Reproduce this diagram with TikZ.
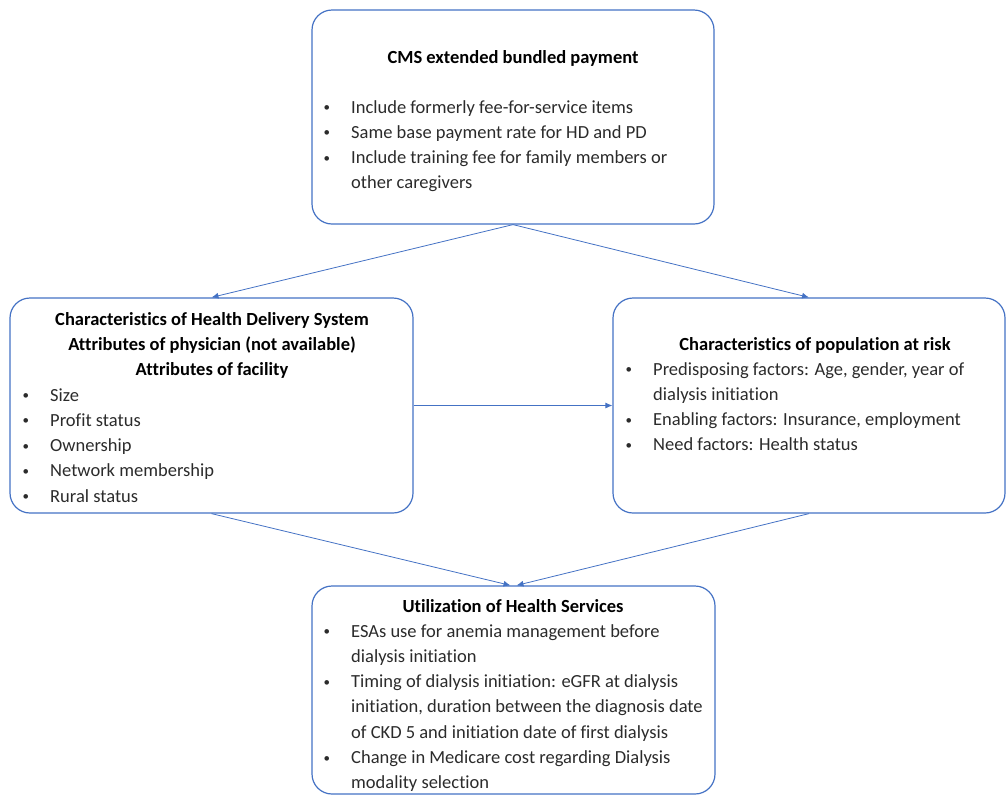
\documentclass[tikz,border=0pt]{standalone}
\usepackage{fontspec}
\setmainfont{Carlito}[RawFeature={-liga}]
\usetikzlibrary{arrows.meta}
\definecolor{lineblue}{HTML}{4472C4}
\definecolor{textgray}{HTML}{2B2B2B}
\newcommand\bodyfont{\fontsize{18.5}{25.3}\selectfont}
\newcommand\dotmark{\hspace{1.5pt}{\fontsize{13}{13}\selectfont\raisebox{1.5pt}{•}}}

\begin{document}
\begin{tikzpicture}[x=1pt,y=-1pt,
  frame/.style={draw=lineblue, line width=1.2pt, rounded corners=20pt, inner sep=0pt},
  head/.style={anchor=base, inner sep=0pt, font=\bodyfont\bfseries, text=black},
  items/.style={anchor=base west, inner sep=0pt, font=\bodyfont, text=textgray},
  link/.style={draw=lineblue, line width=0.8pt, -{Latex[length=7pt,width=6pt]}}]

\useasboundingbox (0,0) rectangle (1006,796);

% boxes
\node[frame, minimum width=402pt, minimum height=214pt] (cms) at (513,117) {};
\node[frame, minimum width=403pt, minimum height=215pt] (hds) at (211.5,405.5) {};
\node[frame, minimum width=392pt, minimum height=215pt] (pop) at (809,405.5) {};
\node[frame, minimum width=403pt, minimum height=208pt] (util) at (513.5,690) {};

% payment
\node[head] (cmshead) at (513,63) {CMS extended bundled payment};
\node[items] (cmslist) at (322,113) {\begin{tabular}[t]{@{}p{29pt}@{}l@{}}
\dotmark & Include formerly fee-for-service items\\
\dotmark & Same base payment rate for HD and PD\\
\dotmark & Include training fee for family members or\\
  & other caregivers
\end{tabular}};

% delivery system
\node[head] (hdshead) at (212,325) {\begin{tabular}[t]{@{}c@{}}
Characteristics of Health Delivery System\\
Attributes of physician (not available)\\
Attributes of facility
\end{tabular}};
\node[items] (hdslist) at (21,401) {\begin{tabular}[t]{@{}p{29pt}@{}l@{}}
\dotmark & Size\\
\dotmark & Profit status\\
\dotmark & Ownership\\
\dotmark & Network membership\\
\dotmark & Rural status
\end{tabular}};

% population
\node[head] (pophead) at (815,350) {Characteristics of population at risk};
\node[items] (poplist) at (624,375) {\begin{tabular}[t]{@{}p{29pt}@{}l@{}}
\dotmark & Predisposing factors: Age, gender, year of\\
  & dialysis initiation\\
\dotmark & Enabling factors: Insurance, employment\\
\dotmark & Need factors: Health status
\end{tabular}};

% utilization
\node[head] (utilhead) at (513,612) {Utilization of Health Services};
\node[items] (utillist) at (322,637) {\begin{tabular}[t]{@{}p{29pt}@{}l@{}}
\dotmark & ESAs use for anemia management before\\
  & dialysis initiation\\
\dotmark & Timing of dialysis initiation: eGFR at dialysis\\
  & initiation, duration between the diagnosis date\\
  & of CKD 5 and initiation date of first dialysis\\
\dotmark & Change in Medicare cost regarding Dialysis\\
  & modality selection
\end{tabular}};

% arrows
\draw[link] (cms.south) -- (hds.north);
\draw[link] (cms.south) -- (pop.north);
\draw[link] (hds.east) -- (pop.west);
\draw[link] (hds.south) -- ([xshift=-3pt]util.north);
\draw[link] (pop.south) -- ([xshift=3pt]util.north);

\end{tikzpicture}
\end{document}
